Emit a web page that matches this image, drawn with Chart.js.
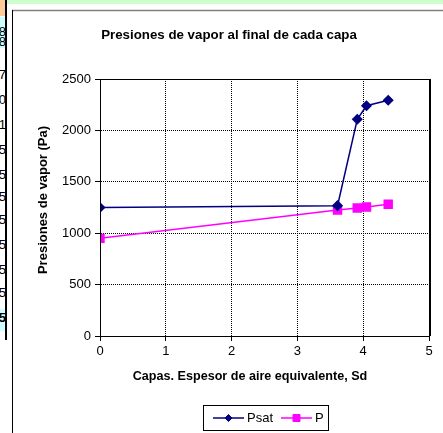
<!DOCTYPE html>
<html>
<head>
<meta charset="utf-8">
<script src="https://cdn.jsdelivr.net/npm/chart.js@4.4.1/dist/chart.umd.min.js"></script>
<style>
  html, body { margin: 0; padding: 0; background: #fff; width: 443px; height: 433px; overflow: hidden; }
  #wrap { position: relative; width: 443px; height: 433px; }
  .deco { position: absolute; }
  #green { left: 7px; top: 0; width: 436px; height: 4px; background: #ccffcc; }
  #orange { left: 0; top: 0; width: 5px; height: 16px; background: #ffcc99; }
  #vline { left: 5px; top: 0; width: 2px; height: 340px; background: #000; }
  .cyan { left: 0; width: 5px; background: #ccffff; }
  .cell { position: absolute; left: 0; width: 6px; height: 14px; overflow: hidden;
          font: 13px "Liberation Sans", Arial, sans-serif; color: #000; line-height: 14px; }
  .cell span { position: absolute; right: 0; top: 0; white-space: nowrap; }
  canvas { position: absolute; left: 0; top: 0; }
</style>
</head>
<body>
<div id="wrap">
  <div class="deco" id="green"></div>
  <div class="deco" id="orange"></div>
  <div class="deco cyan" style="top:17px;height:31px;"></div>
  <div class="deco cyan" style="top:309px;height:22px;"></div>
  <div id="cells"></div>
  <div class="deco" id="vline"></div>
  <canvas id="c" width="443" height="433"></canvas>
</div>
<script>
// ---- data ----
const sd = [0, 3.61, 3.91, 4.05, 4.38];          // Capas. Espesor de aire equivalente, Sd
const psat = [1250, 1268, 2108, 2240, 2293];     // Psat (Pa)
const pv = [950, 1226, 1245, 1255, 1281];        // P (Pa)
const seriesNames = ['Psat', 'P'];
const xTicks = [0, 1, 2, 3, 4, 5];
const yTicks = [0, 500, 1000, 1500, 2000, 2500];
const chartTitle = 'Presiones de vapor al final de cada capa';
const xTitle = 'Capas. Espesor de aire equivalente, Sd';
const yTitle = 'Presiones de vapor (Pa)';
// clipped spreadsheet cells at the left edge
const cellTexts = ['1238', '1238', '1267', '1260', '1251', '1245', '1245', '1245', '1245', '1245', '1245', '1245', '1245'];
const cellRows = [25, 35, 68, 93, 118, 143, 168, 190, 213, 238, 263, 286, 311];

const cellsDiv = document.getElementById('cells');
cellTexts.forEach((t, i) => {
  const d = document.createElement('div');
  d.className = 'cell';
  d.style.top = cellRows[i] + 'px';
  if (i === cellTexts.length - 1) d.style.fontWeight = 'bold';
  const s = document.createElement('span');
  s.textContent = t;
  d.appendChild(s);
  cellsDiv.appendChild(d);
});

const FONT = '"Liberation Sans", Arial, sans-serif';
const NAVY = '#000080';
const MAG = '#ff00ff';

const decoPlugin = {
  id: 'deco',
  beforeDraw(chart) {
    const ctx = chart.ctx;
    ctx.save();
    ctx.fillStyle = '#fff';
    ctx.fillRect(12, 10, 431, 423);
    ctx.strokeStyle = '#808080';
    ctx.lineWidth = 1.5;
    ctx.beginPath(); ctx.moveTo(12, 10.5); ctx.lineTo(443, 10.5); ctx.stroke();
    ctx.strokeStyle = '#000';
    ctx.lineWidth = 1;
    ctx.beginPath(); ctx.moveTo(12.5, 10); ctx.lineTo(12.5, 433); ctx.stroke();
    ctx.restore();
  },
  afterDraw(chart) {
    const ctx = chart.ctx;
    const a = chart.chartArea;
    ctx.save();
    // plot area border
    ctx.strokeStyle = '#000';
    ctx.lineWidth = 1;
    ctx.strokeRect(Math.round(a.left) + 0.5, Math.round(a.top) + 0.5,
                   Math.round(a.right - a.left), Math.round(a.bottom - a.top));
    ctx.beginPath(); ctx.moveTo(Math.round(a.right) + 1.5, a.top); ctx.lineTo(Math.round(a.right) + 1.5, a.bottom); ctx.stroke();
    // titles
    ctx.fillStyle = '#000';
    ctx.textAlign = 'center';
    ctx.textBaseline = 'middle';
    ctx.font = 'bold 13.3px ' + FONT;
    ctx.fillText(chartTitle, 229, 35);
    ctx.font = 'bold 12.6px ' + FONT;
    ctx.fillText(xTitle, 250, 377);
    ctx.save();
    ctx.translate(43, 200);
    ctx.rotate(-Math.PI / 2);
    ctx.font = 'bold 13px ' + FONT;
    ctx.fillText(yTitle, 0, 0);
    ctx.restore();
    // legend
    ctx.strokeStyle = '#000';
    ctx.lineWidth = 1;
    ctx.strokeRect(203.5, 405.5, 125, 25);
    const items = [
      {x1: 213, x2: 244, tx: 247},
      {x1: 281, x2: 312, tx: 315}
    ];
    chart.data.datasets.forEach((ds, i) => {
      const it = items[i];
      const y = 418;
      ctx.strokeStyle = ds.borderColor;
      ctx.lineWidth = ds.borderWidth;
      ctx.beginPath(); ctx.moveTo(it.x1, y); ctx.lineTo(it.x2, y); ctx.stroke();
      ctx.fillStyle = ds.pointBackgroundColor;
      ctx.strokeStyle = ds.pointBorderColor;
      ctx.lineWidth = 1;
      ctx.beginPath();
      const r = ds.legendRadius;
      const cx = (it.x1 + it.x2) / 2;
      if (ds.pointStyle === 'rectRot') {
        ctx.moveTo(cx - r, y); ctx.lineTo(cx, y - r); ctx.lineTo(cx + r, y); ctx.lineTo(cx, y + r); ctx.closePath();
      } else {
        ctx.rect(cx - r, y - r, 2 * r, 2 * r);
      }
      ctx.fill(); ctx.stroke();
      ctx.fillStyle = '#000';
      ctx.textAlign = 'left';
      ctx.font = '13px ' + FONT;
      ctx.fillText(ds.label, it.tx, y);
    });
    ctx.restore();
  }
};

const toPts = (xs, ys) => xs.map((x, i) => ({x: x, y: ys[i]}));

new Chart(document.getElementById('c'), {
  type: 'line',
  data: {
    datasets: [
      {
        label: seriesNames[0],
        data: toPts(sd, psat),
        borderColor: NAVY, backgroundColor: NAVY,
        pointBackgroundColor: NAVY, pointBorderColor: NAVY,
        borderWidth: 1.5, pointStyle: 'rectRot', pointRadius: 4.5, pointHoverRadius: 4.5,
        tension: 0, fill: false, legendRadius: 3.5
      },
      {
        label: seriesNames[1],
        data: toPts(sd, pv),
        borderColor: MAG, backgroundColor: MAG,
        pointBackgroundColor: MAG, pointBorderColor: MAG,
        borderWidth: 1.5, pointStyle: 'rect', pointRadius: 5.6, pointHoverRadius: 5.6,
        tension: 0, fill: false, legendRadius: 3.5
      }
    ]
  },
  options: {
    responsive: false,
    devicePixelRatio: 1,
    animation: false,
    events: [],
    layout: { padding: { left: 0, top: 79, right: 14, bottom: 0 } },
    plugins: { legend: { display: false }, title: { display: false }, tooltip: { enabled: false } },
    scales: {
      x: {
        type: 'linear', min: xTicks[0], max: xTicks[xTicks.length - 1],
        afterBuildTicks(scale) { scale.ticks = xTicks.map(v => ({value: v})); },
        afterFit(scale) { scale.height = 97; },
        ticks: { color: '#000', font: { family: FONT, size: 13 }, padding: 3, maxRotation: 0,
                 callback: v => String(v) },
        grid: { color: '#000', lineWidth: 1, tickLength: 5, tickColor: '#000', tickBorderDash: [] },
        border: { display: true, color: '#000', width: 1, dash: [1, 1] }
      },
      y: {
        type: 'linear', min: yTicks[0], max: yTicks[yTicks.length - 1],
        afterBuildTicks(scale) { scale.ticks = yTicks.map(v => ({value: v})); },
        afterFit(scale) { scale.width = 100; },
        ticks: { color: '#000', font: { family: FONT, size: 13 }, padding: 4,
                 callback: v => String(v) },
        grid: { color: '#000', lineWidth: 1, tickLength: 5, tickColor: '#000', tickBorderDash: [] },
        border: { display: true, color: '#000', width: 1, dash: [1, 1] }
      }
    }
  },
  plugins: [decoPlugin]
});
</script>
</body>
</html>
